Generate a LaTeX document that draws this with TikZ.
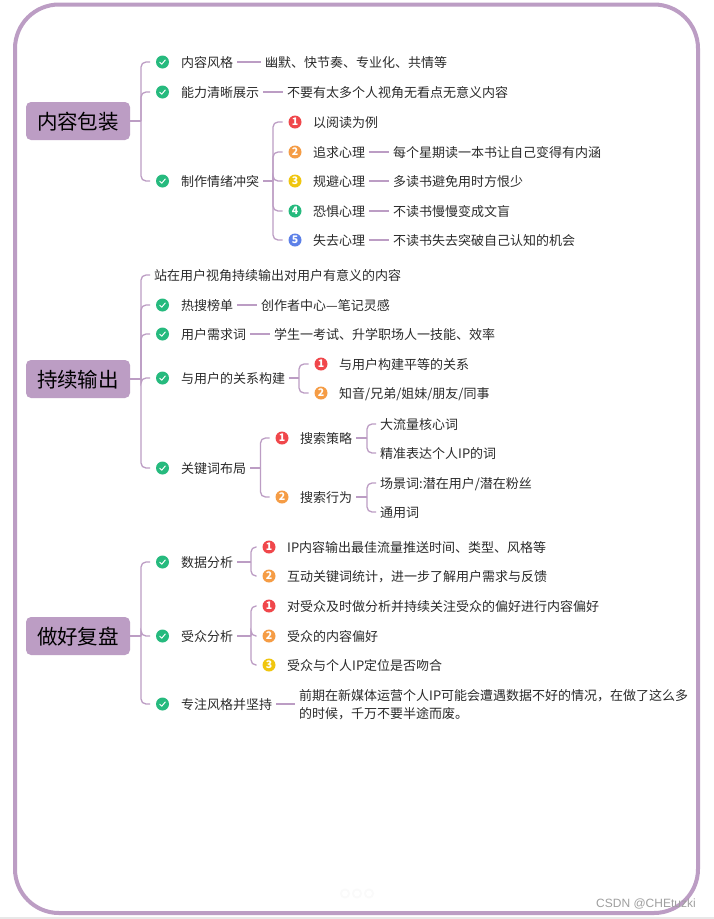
\documentclass[tikz,border=0pt]{standalone}
\usepackage{fontspec}
\setmainfont{Noto Sans CJK SC}
\newfontfamily\markfont{Liberation Sans}
\usepackage{tikz}
\usetikzlibrary{arrows.meta,calc,positioning}
\definecolor{plum}{HTML}{BC9DC4}
\definecolor{inktext}{HTML}{2B2B2B}
\definecolor{mkred}{HTML}{F0474B}
\definecolor{mkorange}{HTML}{F59C45}
\definecolor{mkyellow}{HTML}{F0C60F}
\definecolor{mkgreen}{HTML}{26BA7E}
\definecolor{mkblue}{HTML}{5C80E8}

\begin{document}
\begin{tikzpicture}[x=1pt,y=-1pt,
    every node/.style={font=\fontsize{13}{18}\selectfont,text=inktext},
    rootbox/.style={fill=plum,rounded corners=5pt,minimum width=104pt,minimum height=38pt,inner sep=0pt,text height=18.6pt,text depth=2pt,font=\fontsize{20.5}{24}\selectfont,text=black},
    leaf/.style={anchor=west,inner xsep=4pt,inner ysep=2pt,text height=13pt,text depth=1.2pt},
    branch/.style={plum,line width=1.3pt,rounded corners=5pt},
    badge/.style={circle,fill=#1,minimum size=13pt,inner sep=0pt,outer sep=6pt,text=white,font=\fontsize{10.5}{11}\bfseries\selectfont},
    tick/.style={badge=mkgreen,path picture={\draw[white,line width=1pt,line cap=round,line join=round]
      ([shift={(-2.8,0.2)}]path picture bounding box.center) -- ++(2,2) -- ++(3.6,-4.2);}}]
  \useasboundingbox (0,0) rectangle (714,919);
  \fill[white] (0,0) rectangle (714,919);
  \fill[gray!18] (0,917) rectangle (714,919);
  \draw[plum,line width=4pt,rounded corners=44pt] (15,4.5) rectangle (698,913);

  % roots
  \node[rootbox] (pack) at (78,121) {内容包装};
  \node[rootbox] (keep) at (78,379) {持续输出};
  \node[rootbox] (review) at (78,636) {做好复盘};
  \coordinate (packs) at (141,121);
  \coordinate (keeps) at (141,379);
  \coordinate (reviews) at (141,636);
  \draw[branch] (pack) -- (packs);
  \draw[branch] (keep) -- (keeps);
  \draw[branch] (review) -- (reviews);

  % green ticks, first level
  \foreach \id/\y in {a/62,b/92,c/181,e/305,f/334,g/378,h/468,i/562,j/636,k/704}
    \node[tick] (t\id) at (162.5,\y) {};
  \foreach \id in {a,b,c} \draw[branch] (packs) |- (t\id);
  \foreach \id in {e,f,g,h} \draw[branch] (keeps) |- (t\id);
  \foreach \id in {i,j,k} \draw[branch] (reviews) |- (t\id);

  % first level labels
  \foreach \id/\y/\txt in {a/62/内容风格,b/92/能力清晰展示,c/181/制作情绪冲突,e/305/热搜榜单,f/334/用户需求词,g/378/与用户的关系构建,h/468/关键词布局,i/562/数据分析,j/636/受众分析,k/704/专注风格并坚持}
    \node[leaf] (l\id) at (177,\y) {\txt};
  \node[leaf] (top) at (150,275) {站在用户视角持续输出对用户有意义的内容};
  \draw[branch] (keeps) |- (top);

  \node[leaf] (va) at (261,62) {幽默、快节奏、专业化、共情等};
  \node[leaf] (vb) at (283,92) {不要有太多个人视角无看点无意义内容};
  \node[leaf] (ve) at (257,305) {创作者中心—笔记灵感};
  \node[leaf] (vf) at (270,334) {学生一考试、升学职场人一技能、效率};
  \node[anchor=west,inner xsep=4pt,inner ysep=2pt,align=left] (vk) at (295,705) {前期在新媒体运营个人IP可能会遭遇数据不好的情况，在做了这么多\\的时候，千万不要半途而废。};
  \foreach \id in {a,b,e,f} \draw[branch] (l\id) -- (v\id);
  \draw[branch] (lk) -- (lk -| vk.west);

  % reading psychology
  \coordinate (cs) at (273,181);
  \draw[branch] (lc) -- (cs);
  \foreach \n/\col/\y/\txt in {1/mkred/122/以阅读为例,2/mkorange/152/追求心理,3/mkyellow/181/规避心理,4/mkgreen/211/恐惧心理,5/mkblue/240/失去心理} {
    \node[badge=\col] (cb\n) at (295,\y) {\n};
    \node[leaf] (cl\n) at (309,\y) {\txt};
    \draw[branch] (cs) |- (cb\n);
  }
  \foreach \n/\y/\txt in {2/152/每个星期读一本书让自己变得有内涵,3/181/多读书避免用时方恨少,4/211/不读书慢慢变成文盲,5/240/不读书失去突破自己认知的机会} {
    \node[leaf] (cv\n) at (389,\y) {\txt};
    \draw[branch] (cl\n) -- (cv\n);
  }

  % relation
  \coordinate (gs) at (299,378);
  \draw[branch] (lg) -- (gs);
  \node[badge=mkred] (gb1) at (321,364) {1};
  \node[badge=mkorange] (gb2) at (321,393) {2};
  \draw[branch] (gs) |- (gb1);
  \draw[branch] (gs) |- (gb2);
  \node[leaf] (gl1) at (335,364) {与用户构建平等的关系};
  \node[leaf] (gl2) at (335,393) {知音/兄弟/姐妹/朋友/同事};

  % keywords
  \coordinate (hs) at (260.5,468);
  \draw[branch] (lh) -- (hs);
  \node[badge=mkred] (hb1) at (282,438) {1};
  \node[badge=mkorange] (hb2) at (282,497) {2};
  \draw[branch] (hs) |- (hb1);
  \draw[branch] (hs) |- (hb2);
  \node[leaf] (hl1) at (296,438) {搜索策略};
  \node[leaf] (hl2) at (296,497) {搜索行为};
  \coordinate (hs1) at (367,438);
  \coordinate (hs2) at (367,497);
  \draw[branch] (hl1) -- (hs1);
  \draw[branch] (hl2) -- (hs2);
  \node[leaf] (hv1) at (376,424) {大流量核心词};
  \node[leaf] (hv2) at (376,453) {精准表达个人IP的词};
  \node[leaf] (hv3) at (376,483) {场景词:潜在用户/潜在粉丝};
  \node[leaf] (hv4) at (376,512) {通用词};
  \draw[branch] (hs1) |- (hv1);
  \draw[branch] (hs1) |- (hv2);
  \draw[branch] (hs2) |- (hv3);
  \draw[branch] (hs2) |- (hv4);

  % data and audience
  \coordinate (is) at (251,562);
  \coordinate (js) at (251,636);
  \draw[branch] (li) -- (is);
  \draw[branch] (lj) -- (js);
  \foreach \n/\hub/\col/\num/\y/\txt in {1/is/mkred/1/547/IP内容输出最佳流量推送时间、类型、风格等,2/is/mkorange/2/576/互动关键词统计，进一步了解用户需求与反馈,3/js/mkred/1/606/对受众及时做分析并持续关注受众的偏好进行内容偏好,4/js/mkorange/2/636/受众的内容偏好,5/js/mkyellow/3/665/受众与个人IP定位是否吻合} {
    \node[badge=\col] (db\n) at (269,\y) {\num};
    \node[leaf] (dl\n) at (283,\y) {\txt};
    \draw[branch] (\hub) |- (db\n);
  }

  % pager dots and watermark
  \foreach \x in {345,357,369} {
    \fill[gray!4] (\x,893.5) circle (5pt);
    \fill[white] (\x,893.5) circle (3pt);
  }
  \node[font=\markfont\fontsize{12}{14}\selectfont,text=gray!75] (mark) at (646,904) {CSDN @CHEtuzki};
\end{tikzpicture}
\end{document}
